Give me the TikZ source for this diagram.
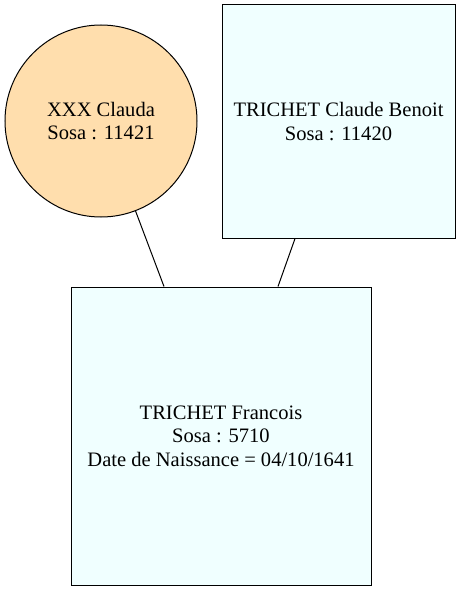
\documentclass[tikz,border=0pt]{standalone}
\usepackage{fontspec}
\setmainfont{Liberation Serif}
\usetikzlibrary{calc}
\definecolor{navajo}{RGB}{255,222,173}
\definecolor{azurefill}{RGB}{240,255,255}
\begin{document}
\begin{tikzpicture}[x=0.75pt,y=-0.75pt,
  txt/.style={align=center,font=\fontsize{15.4}{17.5}\selectfont,inner sep=0pt,draw=black,line width=0.75pt},
  person/.style={txt,circle,fill=navajo,minimum size=144pt},
  box/.style={txt,rectangle,fill=azurefill},
  link/.style={draw=black,line width=0.75pt}]
\useasboundingbox (0,0) rectangle (462,592);
\node[person] (c) at (101,121) {XXX Clauda\\Sosa : 11421};
\node[box,minimum width=174.75pt,minimum height=174.75pt] (t) at (338.5,121.5) {TRICHET Claude Benoit\\Sosa : 11420};
\node[box,minimum width=225pt,minimum height=223.5pt] (f) at (221,436) {TRICHET Francois\\Sosa : 5710\\Date de Naissance = 04/10/1641};
\draw[link] (c.-69) -- ([xshift=-42.75pt]f.north);
\draw[link] ([xshift=-32.6pt]t.south) -- ([xshift=42.75pt]f.north);
\end{tikzpicture}
\end{document}
